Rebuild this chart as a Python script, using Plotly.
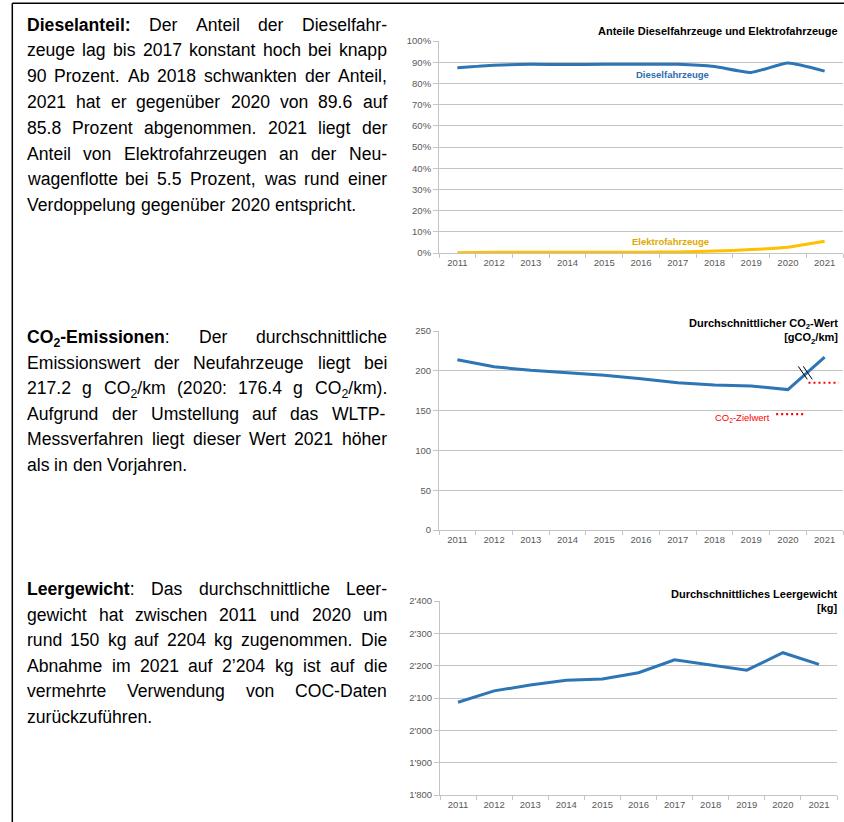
import re
import plotly.graph_objects as go

# ---------------- data ----------------
years = list(range(2011, 2022))
year_labels = [str(y) for y in years]
diesel_share = [87.4, 88.6, 89.0, 88.9, 89.0, 89.0, 89.0, 88.0, 85.2, 89.6, 85.8]
electric_share = [0.1, 0.3, 0.4, 0.3, 0.4, 0.4, 0.5, 0.9, 1.6, 2.7, 5.5]
co2_values = [213.8, 205.0, 200.6, 197.3, 194.4, 190.1, 185.1, 182.3, 181.0, 176.4, 217.2]
co2_targets = [145.5, 185.0]
weight_values = [2087, 2122, 2140, 2155, 2159, 2178, 2218, 2202, 2186, 2240, 2204]
pct_ticks = list(range(0, 101, 10))
pct_tick_labels = [f"{v}%" for v in pct_ticks]
co2_ticks = list(range(0, 251, 50))
weight_ticks = list(range(1800, 2401, 100))
weight_tick_labels = ["1'800", "1'900", "2'000", "2'100", "2'200", "2'300", "2'400"]

para1 = [
    "<b>Dieselanteil:</b> Der Anteil der Dieselfahr-",
    "zeuge lag bis 2017 konstant hoch bei knapp",
    "90 Prozent. Ab 2018 schwankten der Anteil,",
    "2021 hat er gegenüber 2020 von 89.6 auf",
    "85.8 Prozent abgenommen. 2021 liegt der",
    "Anteil von Elektrofahrzeugen an der Neu-",
    "wagenflotte bei 5.5 Prozent, was rund einer",
    "Verdoppelung gegenüber 2020 entspricht.",
]
para2 = [
    "<b>CO<sub>2</sub>-Emissionen</b>: Der durchschnittliche",
    "Emissionswert der Neufahrzeuge liegt bei",
    "217.2 g CO<sub>2</sub>/km (2020: 176.4 g CO<sub>2</sub>/km).",
    "Aufgrund der Umstellung auf das WLTP-",
    "Messverfahren liegt dieser Wert 2021 höher",
    "als in den Vorjahren.",
]
para3 = [
    "<b>Leergewicht</b>: Das durchschnittliche Leer-",
    "gewicht hat zwischen 2011 und 2020 um",
    "rund 150 kg auf 2204 kg zugenommen. Die",
    "Abnahme im 2021 auf 2’204 kg ist auf die",
    "vermehrte Verwendung von COC-Daten",
    "zurückzuführen.",
]

# ---------------- helpers ----------------
W, H = 844, 822
FONT = "Liberation Sans, Arial, sans-serif"


def px(x):
    return x / W


def py(y):
    return 1 - y / H


REG = {' ': 278, "'": 191, '(': 333, ')': 333, ',': 278, '-': 333, '.': 278, '/': 278, ':': 278,
       'A': 667, 'B': 667, 'C': 722, 'D': 722, 'E': 667, 'F': 611, 'G': 778, 'H': 722, 'I': 278,
       'J': 500, 'K': 667, 'L': 556, 'M': 833, 'N': 722, 'O': 778, 'P': 667, 'Q': 778, 'R': 722,
       'S': 667, 'T': 611, 'U': 722, 'V': 667, 'W': 944, 'X': 667, 'Y': 667, 'Z': 611,
       'a': 556, 'b': 556, 'c': 500, 'd': 556, 'e': 556, 'f': 278, 'g': 556, 'h': 556, 'i': 222,
       'j': 222, 'k': 500, 'l': 222, 'm': 833, 'n': 556, 'o': 556, 'p': 556, 'q': 556, 'r': 333,
       's': 500, 't': 278, 'u': 556, 'v': 500, 'w': 722, 'x': 500, 'y': 500, 'z': 500,
       'ä': 556, 'ö': 556, 'ü': 556, '’': 222}
BOLD = {' ': 278, ':': 333, '-': 333, 'A': 722, 'C': 722, 'D': 722, 'E': 667, 'L': 611, 'O': 778,
        'a': 556, 'b': 611, 'c': 556, 'd': 611, 'e': 556, 'f': 333, 'g': 611, 'h': 611, 'i': 278,
        'k': 556, 'l': 278, 'm': 889, 'n': 611, 'o': 611, 'r': 389, 's': 556, 't': 333, 'u': 611,
        'w': 778, 'z': 500}


def text_width(s, fs):
    bold = False
    sub = False
    w = 0.0
    for tok in re.split(r'(<[^>]+>)', s):
        if tok.startswith('<'):
            t = tok.strip('<>/').lower()
            closing = tok.startswith('</')
            if t == 'b':
                bold = not closing
            elif t == 'sub':
                sub = not closing
            continue
        for ch in tok:
            if ch.isdigit():
                cw = 556
            else:
                cw = (BOLD if bold else REG).get(ch, 556)
            w += cw * (0.7 if sub else 1.0)
    return w * fs / 1000.0


TXT_FS = 17.6
X_LEFT = 27
X_RIGHT = 387

annotations = []


def add_paragraph(lines, first_baseline, line_h):
    for i, line in enumerate(lines):
        words = line.split(' ')
        widths = [text_width(w, TXT_FS) for w in words]
        last = i == len(lines) - 1
        if last or len(words) == 1:
            gap = 0.278 * TXT_FS
        else:
            gap = (X_RIGHT - X_LEFT - sum(widths)) / (len(words) - 1)
        x = X_LEFT
        top = first_baseline + i * line_h - 0.905 * TXT_FS
        for w, ww in zip(words, widths):
            annotations.append(dict(
                xref='paper', yref='paper', x=px(x), y=py(top), xanchor='left', yanchor='top',
                text=w, showarrow=False, borderpad=0, borderwidth=0,
                font=dict(family=FONT, size=TXT_FS, color='#000000')))
            x += ww + gap


add_paragraph(para1, 30.5, 25.8)
add_paragraph(para2, 343, 25.5)
add_paragraph(para3, 595, 25.5)

# ---------------- figure ----------------
BLUE = '#2E75B6'
GOLD = '#FFC000'
GRID = '#C4C4C4'
TICKC = '#595959'

fig = go.Figure()
fig.add_trace(go.Scatter(x=years, y=diesel_share, mode='lines', xaxis='x', yaxis='y',
                         line=dict(color=BLUE, width=3, shape='spline', smoothing=0.5),
                         showlegend=False, hoverinfo='skip'))
fig.add_trace(go.Scatter(x=years, y=electric_share, mode='lines', xaxis='x', yaxis='y',
                         line=dict(color=GOLD, width=3, shape='spline', smoothing=0.5),
                         showlegend=False, hoverinfo='skip'))
fig.add_trace(go.Scatter(x=years, y=co2_values, mode='lines', xaxis='x2', yaxis='y2',
                         line=dict(color=BLUE, width=3), showlegend=False, hoverinfo='skip'))
# target reference segments (before / after WLTP)
target_spans = [(2019.68, 2020.45), (2020.56, 2021.38)]
for (xa, xb), tv in zip(target_spans, co2_targets):
    fig.add_trace(go.Scatter(x=[xa, xb], y=[tv, tv], mode='lines', xaxis='x2', yaxis='y2',
                             line=dict(color='#FF0000', width=2.2, dash='2px,3px'),
                             showlegend=False, hoverinfo='skip'))
fig.add_trace(go.Scatter(x=years, y=weight_values, mode='lines', xaxis='x3', yaxis='y3',
                         line=dict(color=BLUE, width=3), showlegend=False, hoverinfo='skip'))

tickfont = dict(family=FONT, size=9.5, color=TICKC)


def xaxis_cfg(x0, x1, anchor):
    return dict(domain=[px(x0), px(x1)], anchor=anchor, range=[2010.5, 2021.5],
                tickmode='array', tickvals=years, ticktext=year_labels, ticks='',
                tickfont=tickfont, showgrid=False, zeroline=False, automargin=False,
                showline=True, linecolor=GRID, linewidth=1, ticklabelstandoff=1,
                minor=dict(tickmode='array', tickvals=[y - 0.5 for y in years] + [years[-1] + 0.5],
                           ticks='outside', ticklen=4, tickcolor=GRID, tickwidth=1, showgrid=False),
                fixedrange=True)


def yaxis_cfg(top, bottom, anchor, rng, tv, tt):
    return dict(domain=[py(bottom), py(top)], anchor=anchor, range=rng, tickmode='array',
                tickvals=tv, ticktext=tt, ticks='outside', ticklen=5, tickcolor=GRID, tickwidth=1,
                tickfont=tickfont, showgrid=True, gridcolor=GRID, gridwidth=1, zeroline=False,
                showline=True, linecolor=GRID, linewidth=1, fixedrange=True, automargin=False)


fig.update_layout(
    width=W, height=H, autosize=False,
    margin=dict(l=0, r=0, t=0, b=0, pad=0, autoexpand=False),
    paper_bgcolor='white', plot_bgcolor='white',
    font=dict(family=FONT, color='#000000'),
    xaxis=xaxis_cfg(439, 843, 'y'),
    yaxis=yaxis_cfg(41, 253, 'x', [0, 100], pct_ticks, pct_tick_labels),
    xaxis2=xaxis_cfg(439, 843, 'y2'),
    yaxis2=yaxis_cfg(331, 530, 'x2', [0, 250], co2_ticks, [str(v) for v in co2_ticks]),
    xaxis3=xaxis_cfg(440, 837, 'y3'),
    yaxis3=yaxis_cfg(601, 795, 'x3', [1800, 2400], weight_ticks, weight_tick_labels),
    showlegend=False,
)

title_font = dict(family=FONT, size=11, color='#000000')
annotations += [
    dict(xref='paper', yref='paper', x=px(838), y=py(31), xanchor='right', yanchor='middle',
         text='<b>Anteile Dieselfahrzeuge und Elektrofahrzeuge</b>', showarrow=False,
         font=title_font, borderpad=0, borderwidth=0),
    dict(xref='paper', yref='paper', x=px(838), y=py(331), xanchor='right', yanchor='middle',
         text='<b>Durchschnittlicher CO<sub>2</sub>-Wert<br>[gCO<sub>2</sub>/km]</b>', showarrow=False,
         align='right', font=title_font, borderpad=0, borderwidth=0),
    dict(xref='paper', yref='paper', x=px(838), y=py(601), xanchor='right', yanchor='middle',
         text='<b>Durchschnittliches Leergewicht<br>[kg]</b>', showarrow=False,
         align='right', font=title_font, borderpad=0, borderwidth=0),
    dict(xref='x', yref='y', x=2016.85, y=84.0, text='<b>Dieselfahrzeuge</b>', showarrow=False,
         font=dict(family=FONT, size=9.5, color='#2E6DB0')),
    dict(xref='x', yref='y', x=2016.8, y=5.2, text='<b>Elektrofahrzeuge</b>', showarrow=False,
         font=dict(family=FONT, size=9.5, color='#E0A800')),
    dict(xref='x2', yref='y2', x=2019.57, y=140.7, xanchor='right', text='CO<sub>2</sub>-Zielwert',
         showarrow=False, font=dict(family=FONT, size=9.5, color='#FF0000')),
]
fig.update_layout(annotations=annotations)

# axis-break marker at the middle of the last CO2 segment
mx = (years[-2] + years[-1]) / 2
my = (co2_values[-2] + co2_values[-1]) / 2
shapes = []
for dx in (-3, 2):
    shapes.append(dict(type='line', xref='x2', yref='y2', xsizemode='pixel', ysizemode='pixel',
                       xanchor=mx, yanchor=my, x0=dx - 5, x1=dx + 4, y0=7, y1=-6,
                       line=dict(color='#000000', width=1)))
# page frame (left and top rule)
shapes.append(dict(type='line', xref='paper', yref='paper', x0=px(12.3), x1=px(12.3), y0=py(3.3), y1=0,
                   line=dict(color='#000000', width=1.5)))
shapes.append(dict(type='line', xref='paper', yref='paper', x0=px(12.3), x1=1, y0=py(3.3), y1=py(3.3),
                   line=dict(color='#000000', width=1.5)))
fig.update_layout(shapes=shapes)

post = (
    "document.documentElement.style.margin='0';"
    "document.documentElement.style.overflow='hidden';"
    "document.body.style.margin='0';document.body.style.overflow='hidden';"
    "var gd=document.getElementById('{plot_id}');"
    "gd.style.position='fixed';gd.style.top='0px';gd.style.left='0px';"
)
fig.write_html("out.html", config={'displayModeBar': False}, post_script=post)
